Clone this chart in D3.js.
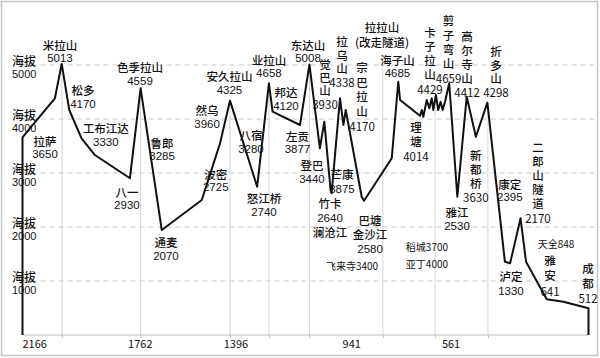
<!DOCTYPE html>
<html><head><meta charset="utf-8">
<script src="https://cdn.jsdelivr.net/npm/d3@7/dist/d3.min.js"></script>
<style>
html,body{margin:0;padding:0;background:#fff;}
svg{display:block;}
text{font-family:"Noto Sans CJK SC","Noto Sans",sans-serif;fill:#111;}
</style></head>
<body>
<svg id="c" width="600" height="358"></svg>
<script>
// ---- data ----
const profileKm   = [2166,2166,2137,2042,2016,1987,1940,1889,1755,1714,1633,1480,1410,1372,1268,1223,1209,1104,1068,1028,1011,987,983,951,938,929,868,859,753,728,721,645,638,632,619,609,600,594,584,575,566,558,549,533,502,466,431,387,320,300,260,239,160,96,0,0];
const profileElev = [0,3660,3830,4383,5020,4167,3643,3333,2902,4569,1944,2500,3550,4340,2746,4661,4135,3889,5010,3457,3950,2685,2624,4383,3889,4167,2561,2487,3272,4691,4352,4060,4167,4043,4352,4198,4383,4167,4444,4167,4320,4167,4320,4661,2561,4413,3672,4302,1357,1328,2161,1357,661,617,494,0];

const yTicks = [1000,2000,3000,4000,5000];
const yTickPrefix = "海拔";
const xTickLabels = [2166,1762,1396,941,561];
const gridKm  = [2015,1714,1372,1223,1068,787,587,385];
const gridTop = [5000,4559,4325,4658,5008,5000,4429,4298];

const placeNames = ["拉萨","米拉山","松多","工布江达","八一","色季拉山","鲁郎","通麦","波密","然乌","安久拉山","八宿","怒江桥","业拉山","邦达","左贡","东达山","登巴","觉巴山","竹卡|{v}|澜沧江","拉乌山","芒康","宗巴拉山","巴塘|金沙江|{v}","拉拉山|(改走隧道)","海子山","理塘","卡子拉山","剪子弯山","雅江","高尔寺山","新都桥","折多山","康定","泸定","二郎山隧道","雅安","成都"];
const placeElev  = [3650,5013,4170,3330,2930,4559,3285,2070,2725,3960,4325,3280,2740,4658,4120,3877,5008,3440,3930,2640,4338,3875,4170,2580,3272,4685,4014,4429,4659,2530,4412,3630,4298,2395,1330,2170,641,512];
const placeKm    = [2166,2016,1987,1889,1755,1714,1674,1633,1480,1410,1372,1302,1268,1223,1209,1104,1068,1028,1011,983,951,938,929,859,753,728,645,584,533,502,466,431,387,343,310,260,160,0];

const noteNames = ["飞来寺","稻城","亚丁","天全"];
const noteElev  = [3400,3700,4000,848];

// ---- layout (offsets from each place's scaled anchor) ----
const labelLayout = [
 [22.5,3,"h",13],[-1.7,-19.3,"h",13],[13.7,-19.8,"h",14],[11,-27,"h",14],[-3,15,"h",13],
 [-0.6,-21.8,"h",14],[11,-14.6,"h",13],[4.2,18.8,"h",14],[14,-13.4,"h",13],[-13,-11,"h",14],
 [-0.5,-25.4,"h",14],[2.7,-22.9,"h",14],[6.8,11,"h",14],[0,-23.5,"h",13],[13.4,-20.5,"h",14],
 [-2.5,10.4,"h",13],[-1.4,-19.6,"h",13],[-7.9,15.8,"h",14],[0.7,-57.8,"v",13],[-1.6,10.6,"h",14.5],
 [2,-58.7,"v",13.4],[-1.4,48.3,"h",14.5],[16.3,-41.8,"v",14.5],[6,24.3,"h",14.5],[-9.7,-131.3,"h",15],
 [-0.8,-22,"h",13],[-4,9.8,"v",14],[-5.9,-62.8,"v",14],[-0.7,-62.4,"v",14.3],[-0.3,13.6,"h",14],
 [0.3,-59.8,"v",13.8],[0,17,"v",13.7],[8.6,-50.9,"v",13.3],[11,-21.7,"h",13],[3.5,12.8,"h",15],
 [17.4,-69.8,"v",14],[3.3,-39.4,"v",15],[-0.5,-38.4,"v",14.5]
];
const noteLayout = [[23,-12,70.3],[26,7,127.8],[26,7,144.8],[36,9.3,-56.4]]; // [anchor place index, dx, dy]

// ---- drawing ----
const svg = d3.select("#c");
const x = d3.scaleLinear().domain([2166,0]).range([22.5,588.5]);
const y = d3.scaleLinear().domain([0,5000]).range([335,65]);
const NUMFONT = "Liberation Sans, Arial, sans-serif";
const CJK = 11.5;

// frame
svg.append("rect").attr("x",1.5).attr("y",1.5).attr("width",596).attr("height",354)
  .attr("fill","#fff").attr("stroke","#c4c4c4").attr("stroke-width",1.5);

// horizontal dashed grid
svg.append("g").selectAll("line").data(yTicks).join("line")
  .attr("x1",x(2166)).attr("x2",597).attr("y1",d=>y(d)).attr("y2",d=>y(d))
  .attr("stroke","#c8c8c8").attr("stroke-width",1).attr("stroke-dasharray","5,4");

// vertical grid
svg.append("g").selectAll("line").data(gridKm).join("line")
  .attr("x1",d=>x(d)).attr("x2",d=>x(d))
  .attr("y1",(d,i)=>y(gridTop[i])).attr("y2",y(0))
  .attr("stroke","#d4d4d4").attr("stroke-width",1);

// bottom axis
const xAxis = d3.axisBottom(x).tickValues(gridKm).tickSize(3).tickFormat("");
const gx = svg.append("g").attr("transform",`translate(0,${y(0)})`).call(xAxis);
gx.select(".domain").attr("stroke","#bdbdbd").attr("d",`M${x(2166)},0H${x(0)}`);
gx.selectAll(".tick line").attr("stroke","#bdbdbd");

svg.append("g").selectAll("text").data(xTickLabels).join("text")
  .attr("x",d=>x(d)).attr("y",y(0)+8).attr("dominant-baseline","central")
  .attr("font-size",11).attr("font-family",NUMFONT)
  .text(d=>d);

// helper: multi-line label as one text element
function multiText(parent, cx, cy, lines, step, anchor, sizeCJK, sizeNum){
  const t = parent.append("text").attr("x",cx).attr("y",cy)
    .attr("text-anchor",anchor).attr("dominant-baseline","central");
  lines.forEach((s,j)=>{
    const isNum = /^\d+$/.test(s);
    t.append("tspan").attr("x",cx).attr("y",cy + j*step)
      .attr("font-size",isNum?sizeNum:sizeCJK)
      .attr("font-family",isNum?NUMFONT:null)
      .attr("font-weight",isNum?null:500)
      .text(s);
  });
  return t;
}
// helper: vertical name (one text, upright glyphs) + number below
function vertText(parent, cx, cy, name, num, step){
  parent.append("text")
    .attr("x",cx).attr("y",cy - CJK/2)
    .style("writing-mode","vertical-rl").style("text-orientation","upright")
    .style("letter-spacing",(step-CJK)+"px")
    .attr("font-size",CJK).attr("font-weight",500)
    .text(name);
  parent.append("text").attr("x",cx).attr("y",cy + name.length*step)
    .attr("text-anchor","middle").attr("dominant-baseline","central")
    .attr("font-size",11.5).attr("font-family",NUMFONT).text(num);
}

// y labels
const gy = svg.append("g");
yTicks.forEach(v=>{
  multiText(gy, 12, y(v)-5, [yTickPrefix, String(v)], 14, "start", 12, 11);
});

// profile
const pts = profileKm.map((k,i)=>[k,profileElev[i]]);
svg.append("path").datum(pts)
  .attr("d",d3.line().x(d=>x(d[0])).y(d=>y(d[1])))
  .attr("fill","none").attr("stroke","#111").attr("stroke-width",2)
  .attr("stroke-linejoin","round");

// place labels
const gl = svg.append("g");
placeNames.forEach((name,i)=>{
  const [dx,dy,dir,step] = labelLayout[i];
  const ax = x(placeKm[i]) + dx, ay = y(placeElev[i]) + dy;
  if (name.includes("|")) {
    multiText(gl, ax, ay, name.split("|").map(s=>s.replace("{v}",placeElev[i])), step, "middle", CJK, 11.5);
  } else if (dir==="v") {
    vertText(gl, ax, ay, name, String(placeElev[i]), step);
  } else {
    multiText(gl, ax, ay, [name, String(placeElev[i])], step, "middle", CJK, 11.5);
  }
});

// small notes
noteNames.forEach((n,i)=>{
  const [pi,dx,dy] = noteLayout[i];
  gl.append("text").attr("x",x(placeKm[pi])+dx).attr("y",y(placeElev[pi])+dy)
    .attr("text-anchor","middle").attr("dominant-baseline","central")
    .attr("font-size",10).text(n+noteElev[i]);
});
</script>
</body></html>
